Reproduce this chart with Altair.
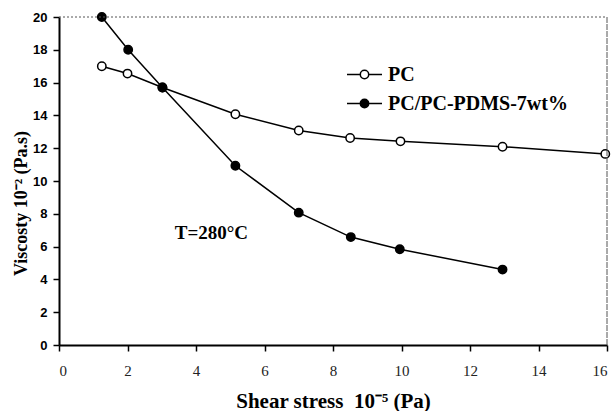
import altair as alt
import pandas as pd

# ---- data ----
series_names = ["PC", "PC/PC-PDMS-7wt%"]
pc_x = [1.25, 2.0, 3.02, 5.15, 7.0, 8.5, 9.97, 12.95, 15.95]
pc_y = [17.0, 16.55, 15.7, 14.07, 13.08, 12.62, 12.42, 12.09, 11.65]
blend_x = [1.25, 2.02, 3.02, 5.15, 7.0, 8.52, 9.95, 12.95]
blend_y = [20.0, 18.0, 15.7, 10.93, 8.07, 6.58, 5.84, 4.6]
x_ticks = [0, 2, 4, 6, 8, 10, 12, 14, 16]
y_ticks = [0, 2, 4, 6, 8, 10, 12, 14, 16, 18, 20]
annotation_text = ["T=280°C"]
annotation_x = [4.45]
annotation_y = [6.85]

x_title = "Shear stress\u00a0 10⁻⁵ (Pa)"
y_title = "Viscosty 10⁻² (Pa.s)"

SERIF = "Liberation Serif"
SANS = "Liberation Sans"

df = pd.concat([
    pd.DataFrame({"x": pc_x, "y": pc_y, "series": series_names[0]}),
    pd.DataFrame({"x": blend_x, "y": blend_y, "series": series_names[1]}),
], ignore_index=True)

xscale = alt.Scale(domain=[0, 16], nice=False, zero=False)
yscale = alt.Scale(domain=[0, 20], nice=False, zero=False)

xaxis = alt.Axis(
    values=x_ticks, title=x_title, grid=False, labelOverlap=False,
    domainColor="black", domainWidth=2, tickColor="black", tickWidth=1.5, tickSize=6,
    labelFont=SERIF, labelFontSize=15, labelColor="#222", labelPadding=12,
    titleFont=SERIF, titleFontSize=21, titleFontWeight="bold", titleColor="black", titlePadding=12,
)
yaxis = alt.Axis(
    values=y_ticks, title=y_title, grid=False, labelOverlap=False,
    domainColor="black", domainWidth=2, tickColor="black", tickWidth=1.5, tickSize=6,
    labelFont=SANS, labelFontSize=13, labelFontWeight="bold", labelColor="black", labelPadding=6,
    titleFont=SERIF, titleFontSize=18, titleFontWeight="bold", titleColor="black", titlePadding=2,
    titleY=186,
)


def X(field):
    return alt.X(field, scale=xscale, axis=xaxis)


def Y(field):
    return alt.Y(field, scale=yscale, axis=yaxis)


base = alt.Chart(df)

lines = base.mark_line(color="black", strokeWidth=1.5).encode(
    x=X("x:Q"), y=Y("y:Q"), detail="series:N",
)

legend_path = ("M-1,0H-0.24M0.24,0H1"
               "M-0.24,0A0.24,0.24,0,1,1,0.24,0A0.24,0.24,0,1,1,-0.24,0Z")

points = base.mark_point(shape="circle", filled=True, stroke="black", strokeWidth=1.5,
                         size=70, opacity=1).encode(
    x=X("x:Q"), y=Y("y:Q"),
    fill=alt.Fill("series:N",
                  scale=alt.Scale(domain=series_names, range=["white", "black"]),
                  legend=alt.Legend(
                      title=None, orient="none", legendX=287, legendY=39,
                      symbolType=legend_path, symbolSize=1225,
                      symbolStrokeColor="black", symbolStrokeWidth=1.5,
                      symbolOpacity=1, symbolFillColor="white",
                      labelFont=SERIF, labelFontSize=20, labelFontWeight="bold",
                      labelColor="black", labelOffset=5, labelLimit=400,
                      rowPadding=-8, padding=0,
                  )),
)

ann_df = pd.DataFrame({"x": annotation_x, "y": annotation_y, "t": annotation_text})
annotation = alt.Chart(ann_df).mark_text(
    font=SERIF, fontSize=19, fontWeight="bold", color="black", align="center", baseline="middle"
).encode(x=X("x:Q"), y=Y("y:Q"), text="t:N")

frame_df = pd.DataFrame({"x": [0], "x2": [16], "y": [20], "y0": [0]})
top_rule = alt.Chart(frame_df).mark_rule(color="#555", strokeWidth=1, strokeDash=[2, 2]).encode(
    x=X("x:Q"), x2="x2:Q", y=Y("y:Q"))
right_rule = alt.Chart(frame_df).mark_rule(color="#555", strokeWidth=1, strokeDash=[6, 1]).encode(
    x=X("x2:Q"), y=Y("y0:Q"), y2="y:Q")

chart = alt.layer(lines, points, annotation, top_rule, right_rule).properties(
    width=548, height=328,
    autosize=alt.AutoSizeParams(type="none"),
    padding={"left": 59, "top": 17, "right": 8, "bottom": 66},
    background="white",
).configure_view(stroke=None)

chart.save("out.html", embed_options={"renderer": "svg", "actions": False})
